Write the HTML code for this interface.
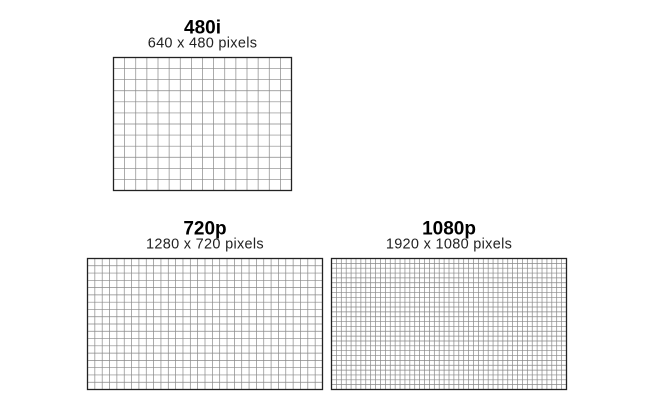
<!DOCTYPE html>
<html><head><meta charset="utf-8">
<style>
body{margin:0;background:#fff;}
svg{display:block;font-family:"Liberation Sans",sans-serif;}
</style></head>
<body>
<svg id="chart" width="650" height="408" viewBox="0 0 650 408" xmlns="http://www.w3.org/2000/svg"></svg>
<script>
const names = ["480i", "720p", "1080p"];
const widthsPx = [640, 1280, 1920];
const heightsPx = [480, 720, 1080];
const cellPx = 40;
// layout boxes (positions only)
const boxes = [
  {x:113.5, y:57.5, w:178, h:133},
  {x:87.5, y:258.5, w:235, h:131},
  {x:331.5, y:258.5, w:235, h:131}
];
const svg = document.getElementById('chart');
const NS = "http://www.w3.org/2000/svg";
function mk(tag, attrs){const e=document.createElementNS(NS,tag);for(const k in attrs)e.setAttribute(k,attrs[k]);svg.appendChild(e);return e;}
names.forEach((n,i)=>{
  const b=boxes[i];
  const cols=widthsPx[i]/cellPx, rows=heightsPx[i]/cellPx;
  const cx=b.x+b.w/2;
  const t=mk('text',{x:cx,y:b.y-24,'text-anchor':'middle','font-size':'19','font-weight':'bold',fill:'#000'});
  t.textContent=n;
  
  
  const s=mk('text',{x:cx,y:b.y-10,'text-anchor':'middle','font-size':'14.5','letter-spacing':'0.3',fill:'#222'});
  s.textContent=widthsPx[i]+" x "+heightsPx[i]+" pixels";
  
  
  const g=document.createElementNS(NS,'g');svg.appendChild(g);
  
  
  let d='';
  for(let c=1;c<cols;c++){const x=b.x+b.w*c/cols;d+=`M${x.toFixed(2)} ${b.y}V${b.y+b.h}`;}
  for(let r=1;r<rows;r++){const y=b.y+b.h*r/rows;d+=`M${b.x} ${y.toFixed(2)}H${b.x+b.w}`;}
  const p=document.createElementNS(NS,'path');p.setAttribute('d',d);p.setAttribute('stroke','#888');p.setAttribute('stroke-width','0.7');p.setAttribute('fill','none');g.appendChild(p);
  const r=document.createElementNS(NS,'rect');
  r.setAttribute('x',b.x);r.setAttribute('y',b.y);r.setAttribute('width',b.w);r.setAttribute('height',b.h);
  r.setAttribute('fill','none');r.setAttribute('stroke','#222');r.setAttribute('stroke-width','1.3');
  
  
  g.appendChild(r);
});
</script>
</body></html>
